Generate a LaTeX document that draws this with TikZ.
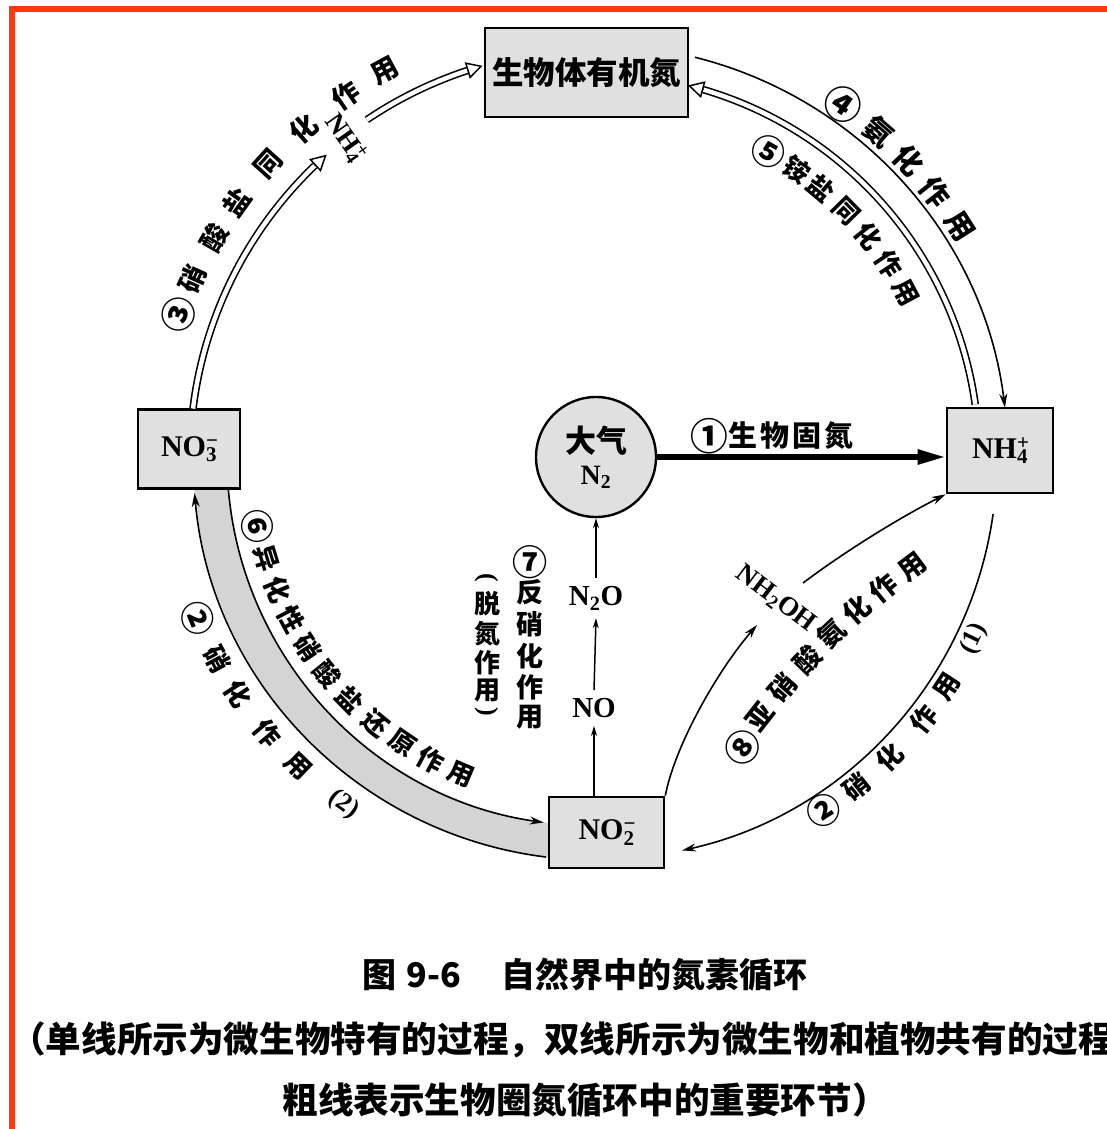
\documentclass[tikz,border=0pt]{standalone}
\usepackage{fontspec}
\usepackage{graphicx}
\setmainfont{Liberation Serif}
\newfontfamily\cjk{Noto Sans CJK SC}
\usetikzlibrary{arrows.meta,calc}
\definecolor{redb}{RGB}{255,55,10}
\definecolor{boxg}{RGB}{224,224,224}
\definecolor{bandg}{RGB}{212,212,212}
\newcommand\myion[3]{#1\makebox[0pt][l]{\textsuperscript{#3}}\textsubscript{#2}}
\newcommand\mycj[1]{\cjk\bfseries\fontsize{#1}{#1}\selectfont}
\newcommand\myrm[1]{\rmfamily\bfseries\fontsize{#1}{#1}\selectfont}
\newcommand\mycirc[1]{\raisebox{-0.12em}{\scalebox{1.3}{#1}}}
\begin{document}
\begin{tikzpicture}[x=1pt,y=-1pt,
  box/.style={draw, line width=2.6pt, fill=boxg, inner sep=0pt},
  dbl/.style={draw, line width=1.6pt, double=white, double distance=4.4pt},
  openarr/.style={draw, line width=1.5pt, -{Triangle[open,length=16pt,width=17pt]}},
  sgl/.style={draw, line width=1.6pt},
  sglarr/.style={sgl, -{Stealth[length=14pt,width=8pt]}},
  thickarr/.style={draw, line width=5.5pt, -{Triangle[length=28pt,width=14pt]}},
  vsmall/.style={draw, line width=1.5pt, -{Stealth[length=10pt,width=6pt]}},
  lab/.style={inner sep=0pt},
  chem/.style={inner xsep=0pt, inner ysep=8pt, font=\myrm{29}},
  captext/.style={inner sep=0pt, font=\mycj{34}}
]
\useasboundingbox (0,0) rectangle (1107,1129);
\fill[white] (0,0) rectangle (1107,1129);
\clip (0,0) rectangle (1107,1129);
\draw[redb, line width=6] (12,1129) -- (12,9) -- (1107,9);

\coordinate (O) at (595,458);
% gray band
\fill[bandg] ($(O)+(95:402)$) arc[start angle=95,end angle=177,radius=402]
  -- ($(O)+(177:368)$) arc[start angle=177,end angle=95,radius=368] -- cycle;

% nodes
\node[box, minimum width=203, minimum height=89] (org) at (586.5,72.5) {\mycj{31.5}生物体有机氮};
\node[box, minimum width=102, minimum height=79] (no3) at (189,449) {\myrm{30}\myion{NO}{3}{−}};
\node[box, minimum width=106, minimum height=85] (nh4) at (1000,450.5) {\myrm{30}\myion{NH}{4}{+}};
\node[box, minimum width=115, minimum height=71] (no2) at (606.5,832.5) {\myrm{30}\myion{NO}{2}{−}};
\node[circle, draw, line width=2.4pt, fill=boxg, minimum size=120, inner sep=0pt, align=center,
  font=\fontsize{28}{32}\selectfont] (n2) at (596,457) {{\mycj{31}大气}\\{\myrm{28}N\textsubscript{2}}};

% ③ nitrate assimilation (double)
\draw[dbl] ($(O)+(187:405)$) coordinate (a3s) arc[start angle=187,end angle=226.2,radius=405] coordinate (a3b);
\draw[openarr] (a3b) -- ($(O)+(228.5:405)$);
\node[lab, rotate=-55, font=\myrm{27}] (nh4lab) at (345,138) {\myion{NH}{4}{+}};
\draw[dbl] ($(O)+(236:408)$) coordinate (a3t) arc[start angle=236,end angle=251.8,radius=408] coordinate (a3c);
\draw[openarr] (a3c) -- ($(O)+(254:408)$);
% ④ ammonification (single)
\draw[sglarr] ($(O)+(284:413)$) coordinate (a4s) arc[start angle=284,end angle=353,radius=413];
% ⑤ ammonium assimilation (double)
\draw[dbl] ($(O)+(352:384)$) coordinate (a5s) arc[start angle=352,end angle=286.4,radius=384] coordinate (a5b);
\draw[openarr] (a5b) -- ($(O)+(284:384)$);
% ② nitrification (1)
\draw[sglarr] ($(O)+(8:402)$) coordinate (a21) arc[start angle=8,end angle=77.5,radius=402];
% ② nitrification (2) outer band line
\draw[sglarr] ($(O)+(97:402)$) coordinate (a22) arc[start angle=97,end angle=175,radius=402];
% ⑥ inner band line
\draw[sglarr] ($(O)+(175:368)$) coordinate (a6s) arc[start angle=175,end angle=98,radius=368];

% ① fixation
\draw[thickarr] (n2.east) -- (n2.east -| nh4.west);
\node[lab, font=\mycj{29}] (l1) at (772,436) {\mycirc{①}生\hspace{3pt}物\hspace{3pt}固\hspace{3pt}氮};

% ⑦ denitrification chain
\node[chem] (no) at (594,708) {NO};
\node[chem] (n2o) at (596,598) {N\textsubscript{2}O};
\draw[vsmall] (no2.north -| no.south) -- (no.south);
\draw[vsmall] (no.north) -- (n2o.south);
\draw[vsmall] (n2o.north) -- (n2o.north |- n2.south);

% ⑧ nitrite ammonification
\node[lab, rotate=-37, font=\myrm{27}] (nhoh) at (776,599) {NH\textsubscript{2}OH};
\coordinate (h1) at (757,625);
\coordinate (h2) at (803,583);
\draw[sglarr] (no2.north east) .. controls (675,745) and (718,670) .. (h1);
\draw[sglarr] (h2) .. controls (840,555) and (895,520) .. (nh4.south west);

% arc labels
\foreach \c/\a [count=\i] in {\mycirc{③}/199,硝/204,酸/210,盐/215.5,同/222,化/228.5,作/235.5,用/241.5}
  \node[lab, font=\mycj{27}, rotate={270-\a}] (t3-\i) at ($(O)+(\a:440)$) {\c};
\foreach \c/\a [count=\i] in {\mycirc{④}/305,氨/311,化/316.5,作/322,用/327.5}
  \node[lab, font=\mycj{29}, rotate={270-\a}] (t4-\i) at ($(O)+(\a:432)$) {\c};
\foreach \c/\a [count=\i] in {\mycirc{⑤}/299.5,铵/305,盐/310,同/315.5,化/321,作/326.5,用/332}
  \node[lab, font=\mycj{26}, rotate={270-\a}] (t5-\i) at ($(O)+(\a:352)$) {\c};
\foreach \c/\a [count=\i] in {\mycirc{⑥}/168.5,异/163,化/157.5,性/152,硝/146.5,酸/141,盐/135.5,还/129.5,原/124,作/118.5,用/113}
  \node[lab, font=\mycj{26}, rotate={90-\a}] (t6-\i) at ($(O)+(\a:344)$) {\c};
\foreach \c/\a [count=\i] in {\mycirc{②}/158,硝/152,化/146.5,作/140,用/134,{\myrm{26}(2)}/126}
  \node[lab, font=\mycj{26}, rotate={90-\a}] (t2b-\i) at ($(O)+(\a:428)$) {\c};
\foreach \c/\a [count=\i] in {\mycirc{②}/57,硝/51.5,化/45.5,作/38.5,用/33,{\myrm{26}(1)}/25.5}
  \node[lab, font=\mycj{26}, rotate={90-\a}] (t2a-\i) at ($(O)+(\a:420)$) {\c};
\foreach \c/\x/\y/\r [count=\i] in {\mycirc{⑧}/743/747/55,亚/760/717/52,硝/783/688/49,酸/807/660/46,氨/831/634/43,化/857/610/41,作/884/588/39,用/913/567/37}
  \node[lab, font=\mycj{27}, rotate=\r] (t8-\i) at (\x,\y) {\c};
% ⑦ vertical labels
\foreach \c/\y [count=\i] in {\mycirc{⑦}/562,反/592,硝/624,化/656,作/687,用/717}
  \node[lab, font=\mycj{27}] (t7-\i) at (530,\y) {\c};
\node[lab, rotate=-90, font=\myrm{26}] (p1) at (487,578) {(};
\foreach \c/\y [count=\i] in {脱/604,氮/634,作/663,用/691}
  \node[lab, font=\mycj{26}] (t7b-\i) at (487,\y) {\c};
\node[lab, rotate=-90, font=\myrm{26}] (p2) at (487,712) {)};

% caption
\node[captext] (c1) at (585,975) {图\hspace{10pt}9-6\hspace{40pt}自然界中的氮素循环};
\node[captext, anchor=west, font=\mycj{35.6}] (c2) at (10,1040) {（单线所示为微生物特有的过程，双线所示为微生物和植物共有的过程};
\node[captext, font=\mycj{35.6}] (c3) at (585,1100) {粗线表示生物圈氮循环中的重要环节）};
\end{tikzpicture}
\end{document}
